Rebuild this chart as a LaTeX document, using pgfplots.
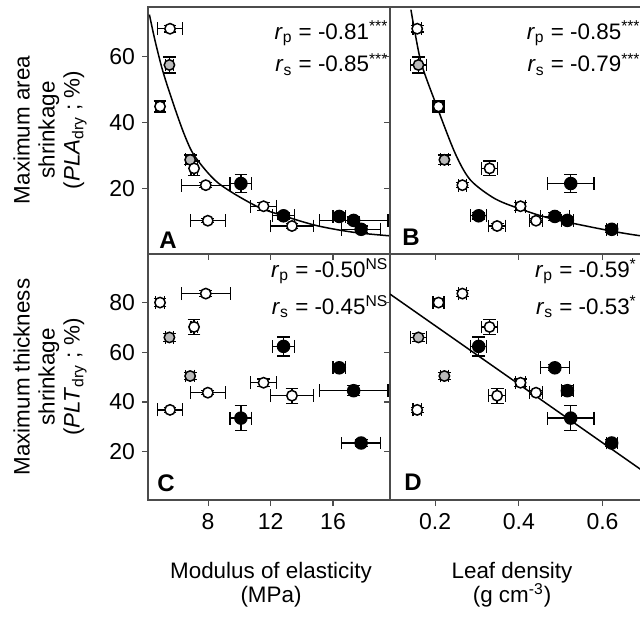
\documentclass[border=0pt]{standalone}
\usepackage{fontspec}
\setmainfont{Liberation Sans}
\usepackage{pgfplots}
\usepackage{pgfplotstable}
\pgfplotsset{compat=1.18}

% species means and errors (MOE in MPa, density in g cm-3, shrinkage in %)
\pgfplotstableread{
sp moe emoe dens edens pla epla plt eplt cls
1 4.92 0.30 0.208 0.013 44.8 1.7 79.9 1.5 o
2 5.56 0.81 0.157 0.010 68.4 1.0 36.8 1.0 o
3 5.52 0.25 0.160 0.019 57.4 2.4 65.9 1.5 g
4 6.85 0.30 0.222 0.010 28.6 1.5 50.4 1.5 g
5 7.10 0.20 0.330 0.019 26.0 2.2 70.1 2.9 o
6 7.85 1.57 0.265 0.010 20.9 0.8 83.5 1.2 o
7 7.98 1.13 0.441 0.016 10.1 0.6 43.7 0.8 o
8 10.10 0.70 0.524 0.056 21.4 2.7 33.5 5.1 b
9 11.55 0.85 0.404 0.012 14.5 1.2 47.7 1.5 o
10 12.83 0.70 0.304 0.019 11.6 1.0 62.3 3.8 b
11 13.37 1.36 0.348 0.020 8.5 0.8 42.5 3.0 o
12 16.40 0.40 0.486 0.035 11.4 1.2 53.7 1.2 b
13 17.32 2.20 0.516 0.014 10.2 1.0 44.5 2.0 b
14 17.80 1.25 0.622 0.013 7.5 1.0 23.5 1.5 b
}\species

\pgfplotsset{
  panel/.style={
    scale only axis,
    tick align=outside, xtick pos=left, ytick pos=left,
    major tick length=3pt,
    axis line style={black!70, line width=0.7pt},
    tick style={black!70, line width=0.6pt},
    ticklabel style={font=\fontsize{11.5}{13}\selectfont},
    /pgf/number format/assume math mode=true,
  },
  pts/.style={
    scatter, only marks, black,
    scatter src=explicit symbolic,
    scatter/classes={
      o={mark=*, mark size=2.6pt, fill=white, draw=black},
      g={mark=*, mark size=2.6pt, fill=gray!55, draw=black},
      b={mark=*, mark size=3pt, fill=black, draw=black}},
    mark options={line width=0.75pt},
    error bars/.cd, x dir=both, x explicit, y dir=both, y explicit,
    error bar style={black, line width=0.65pt},
    error mark options={rotate=90, mark size=3.2pt, line width=0.65pt},
  },
  fit/.style={black, line width=0.75pt, no marks},
}
\newcommand{\rtxt}[1]{\fontsize{11.2}{13}\selectfont #1}

\begin{document}
\begin{tikzpicture}
% A
\begin{axis}[panel, at={(74pt,-3.5pt)}, anchor=north west, width=121pt, height=123.5pt,
  xmin=4.15, xmax=19.65, ymin=0, ymax=75, xtick={8,12,16}, ytick={20,40,60}, xticklabels={}]
  \addplot[fit, smooth] coordinates {(4.24,72.7) (4.6,64.8) (5.1,55.5) (5.78,45.5) (6.5,36) (7.17,29.5) (8.66,21.5) (11.1,14.5) (12.83,11.6) (14.97,8.6) (17.3,6.6) (19.67,5.5)};
  \addplot[pts] table[x=moe, y=pla, x error=emoe, y error=epla, meta=cls] {\species};
  \node[anchor=base east, inner sep=0pt] at (rel axis cs:0.995,0.870) {\rtxt{\textit{r}\textsubscript{p} = -0.81\textsuperscript{***}}};
  \node[anchor=base east, inner sep=0pt] at (rel axis cs:0.995,0.737) {\rtxt{\textit{r}\textsubscript{s} = -0.85\textsuperscript{***}}};
  \node[anchor=base west, inner sep=0pt, font=\fontsize{12}{14}\selectfont\bfseries] at (rel axis cs:0.045,0.024) {A};
\end{axis}
% B
\begin{axis}[panel, at={(195pt,-3.5pt)}, anchor=north west, width=125.5pt, height=123.5pt,
  xmin=0.092, xmax=0.692, ymin=0, ymax=75, xtick={0.2,0.4,0.6}, ytick={20,40,60}, xticklabels={}, yticklabels={}]
  \addplot[fit, smooth] coordinates {(0.142,74.2) (0.152,67) (0.168,57.4) (0.204,44.8) (0.248,30.5) (0.284,22.5) (0.34,17) (0.396,14.0) (0.476,10.8) (0.62,7.0) (0.692,5.5)};
  \addplot[pts] table[x=dens, y=pla, x error=edens, y error=epla, meta=cls] {\species};
  \node[anchor=base east, inner sep=0pt] at (rel axis cs:1.0,0.870) {\rtxt{\textit{r}\textsubscript{p} = -0.85\textsuperscript{***}}};
  \node[anchor=base east, inner sep=0pt] at (rel axis cs:1.0,0.737) {\rtxt{\textit{r}\textsubscript{s} = -0.79\textsuperscript{***}}};
  \node[anchor=base west, inner sep=0pt, font=\fontsize{12}{14}\selectfont\bfseries] at (rel axis cs:0.048,0.034) {B};
\end{axis}
% C
\begin{axis}[panel, at={(74pt,-127pt)}, anchor=north west, width=121pt, height=123pt,
  xmin=4.15, xmax=19.65, ymin=0.6, ymax=99.4, xtick={8,12,16}, ytick={20,40,60,80}]
  \addplot[pts] table[x=moe, y=plt, x error=emoe, y error=eplt, meta=cls] {\species};
  \node[anchor=base east, inner sep=0pt] at (rel axis cs:0.995,0.906) {\rtxt{\textit{r}\textsubscript{p} = -0.50\textsuperscript{NS}}};
  \node[anchor=base east, inner sep=0pt] at (rel axis cs:0.995,0.756) {\rtxt{\textit{r}\textsubscript{s} = -0.45\textsuperscript{NS}}};
  \node[anchor=base west, inner sep=0pt, font=\fontsize{12}{14}\selectfont\bfseries] at (rel axis cs:0.037,0.035) {C};
\end{axis}
% D
\begin{axis}[panel, at={(195pt,-127pt)}, anchor=north west, width=125.5pt, height=123pt,
  xmin=0.092, xmax=0.692, ymin=0.6, ymax=99.4, xtick={0.2,0.4,0.6}, ytick={20,40,60,80}, yticklabels={}]
  \addplot[fit] coordinates {(0.092,83.3) (0.692,12.8)};
  \addplot[pts] table[x=dens, y=plt, x error=edens, y error=eplt, meta=cls] {\species};
  \node[anchor=base east, inner sep=0pt] at (rel axis cs:0.985,0.906) {\rtxt{\textit{r}\textsubscript{p} = -0.59\textsuperscript{*}}};
  \node[anchor=base east, inner sep=0pt] at (rel axis cs:0.985,0.756) {\rtxt{\textit{r}\textsubscript{s} = -0.53\textsuperscript{*}}};
  \node[anchor=base west, inner sep=0pt, font=\fontsize{12}{14}\selectfont\bfseries] at (rel axis cs:0.056,0.039) {D};
\end{axis}
% axis descriptions
\node[rotate=90, align=center, font=\fontsize{11.2}{12.5}\selectfont] at (25pt,-65pt) {Maximum area\\shrinkage\\(\textit{PLA}\textsubscript{dry} ; \%)};
\node[rotate=90, align=center, font=\fontsize{11.2}{12.5}\selectfont] at (25pt,-188.5pt) {Maximum thickness\\shrinkage\\(\textit{PLT}\textsubscript{dry} ; \%)};
\node[align=center, font=\fontsize{11.2}{12}\selectfont] at (135.5pt,-292.5pt) {Modulus of elasticity\\(MPa)};
\node[align=center, font=\fontsize{11.2}{12}\selectfont] at (256pt,-292.5pt) {Leaf density\\(g cm\textsuperscript{-3})};
\pgfresetboundingbox
\path[use as bounding box] (0,0) rectangle (320pt,-308pt);
\end{tikzpicture}
\end{document}
